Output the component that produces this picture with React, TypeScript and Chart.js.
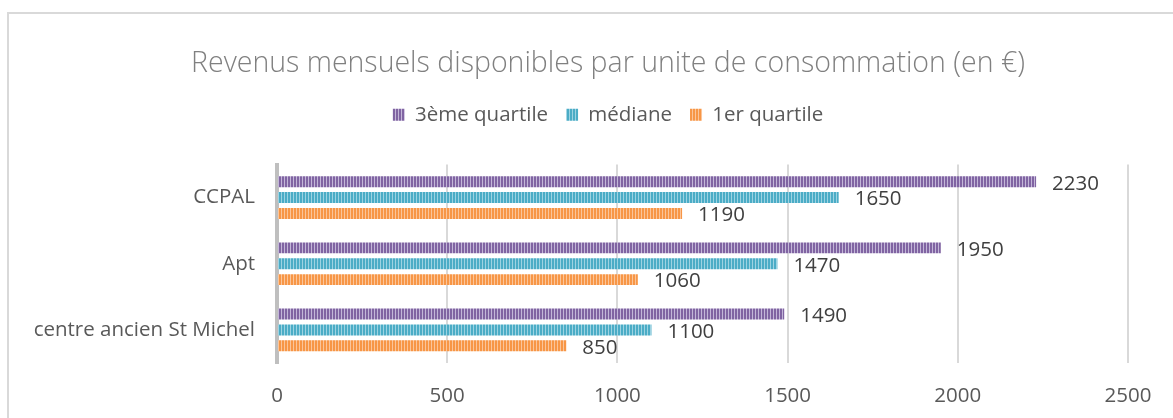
import React, { useEffect, useRef } from "react";
import { Chart, registerables } from "chart.js";

Chart.register(...registerables);

const categories = ["CCPAL", "Apt", "centre ancien St Michel"];
const seriesNames = ["3ème quartile", "médiane", "1er quartile"];
const q3Values = [2230, 1950, 1490];
const medianValues = [1650, 1470, 1100];
const q1Values = [1190, 1060, 850];
const xTicks = [0, 500, 1000, 1500, 2000, 2500];
const titleText = "Revenus mensuels disponibles par unite de consommation (en €)";

const FONT = "'Open Sans', 'Noto Sans', sans-serif";
const PLOT_LEFT = 277;
const HEADER_SHIFT = 44;

function stripePattern(dark: string, light: string): CanvasPattern | string {
  const c = document.createElement("canvas");
  c.width = 3;
  c.height = 4;
  const g = c.getContext("2d");
  if (!g) return dark;
  g.fillStyle = dark;
  g.fillRect(0, 0, 2, 4);
  g.fillStyle = light;
  g.fillRect(2, 0, 1, 4);
  const p = g.createPattern(c, "repeat");
  return p || dark;
}

export default function App() {
  const ref = useRef<HTMLCanvasElement | null>(null);

  useEffect(() => {
    if (!ref.current) return;
    const purple = stripePattern("#8064a2", "#c3b6d8");
    const cyan = stripePattern("#4bacc6", "#9dd3e2");
    const orange = stripePattern("#f79646", "#fbc59a");

    const valueLabels = {
      id: "valueLabels",
      afterDatasetsDraw(chart: any) {
        const ctx = chart.ctx;
        ctx.save();
        ctx.font = `20.5px ${FONT}`;
        ctx.fillStyle = "#404040";
        ctx.textAlign = "left";
        ctx.textBaseline = "middle";
        chart.data.datasets.forEach((ds: any, di: number) => {
          const meta = chart.getDatasetMeta(di);
          meta.data.forEach((el: any, i: number) => {
            ctx.fillText(String(ds.data[i]), el.x + 16, el.y + 2);
          });
        });
        ctx.restore();
      },
    };

    const headerLayout = {
      id: "headerLayout",
      beforeInit(chart: any) {
        const legend = chart.legend;
        if (!legend) return;
        const orig = legend.fit;
        legend.fit = function () {
          orig.call(this);
          this.height += 29.5;
        };
      },
      afterLayout(chart: any) {
        [chart.titleBlock, chart.legend].forEach((b: any) => {
          if (!b) return;
          b.left += HEADER_SHIFT;
          b.right += HEADER_SHIFT;
        });
      },
    };

    const chart = new Chart(ref.current, {
      type: "bar",
      data: {
        labels: categories,
        datasets: [
          { label: seriesNames[0], data: q3Values, backgroundColor: purple as any },
          { label: seriesNames[1], data: medianValues, backgroundColor: cyan as any },
          { label: seriesNames[2], data: q1Values, backgroundColor: orange as any },
        ],
      },
      options: {
        indexAxis: "y",
        animation: false,
        responsive: false,
        maintainAspectRatio: false,
        datasets: {
          bar: { categoryPercentage: 0.72, barPercentage: 0.69 },
        },
        layout: { padding: { left: 0, right: 45, top: 0, bottom: 11 } },
        plugins: {
          title: {
            display: true,
            text: titleText,
            color: "#808080",
            font: { family: FONT, size: 28.5, weight: "300" as any },
            padding: { top: 47, bottom: 5.3 },
          },
          legend: {
            display: true,
            position: "top",
            labels: {
              boxWidth: 12,
              boxHeight: 12,
              color: "#595959",
              font: { family: FONT, size: 20.5 },
              padding: 18,
            },
          },
          tooltip: { enabled: false },
        },
        scales: {
          x: {
            min: 0,
            max: 2500,
            afterBuildTicks(scale: any) {
              scale.ticks = xTicks.map((v) => ({ value: v }));
            },
            afterFit(scale: any) {
              scale.height = 44;
            },
            grid: { color: "#d9d9d9", lineWidth: 2, drawTicks: false },
            border: { display: false },
            ticks: {
              color: "#595959",
              font: { family: FONT, size: 20.5 },
              padding: 21,
              callback: (v: any) => String(v),
            },
          },
          y: {
            afterFit(scale: any) {
              scale.width = PLOT_LEFT;
            },
            grid: { display: false, drawTicks: false },
            border: { display: true, color: "#bfbfbf", width: 4 },
            ticks: { color: "#595959", font: { family: FONT, size: 20.5 }, padding: 22 },
          },
        },
      },
      plugins: [valueLabels, headerLayout],
    });
    return () => chart.destroy();
  }, []);

  return (
    <div style={{ position: "fixed", left: 0, top: 0, width: 1173, height: 418, overflow: "hidden", background: "#fff" }}>
      <div
        style={{
          position: "absolute",
          left: 7,
          top: 12,
          width: 1300,
          height: 600,
          border: "2px solid #d9d9d9",
          boxSizing: "border-box",
        }}
      />
      <canvas ref={ref} width={1173} height={418} style={{ position: "absolute", left: 0, top: 0, width: 1173, height: 418 }} />
    </div>
  );
}
